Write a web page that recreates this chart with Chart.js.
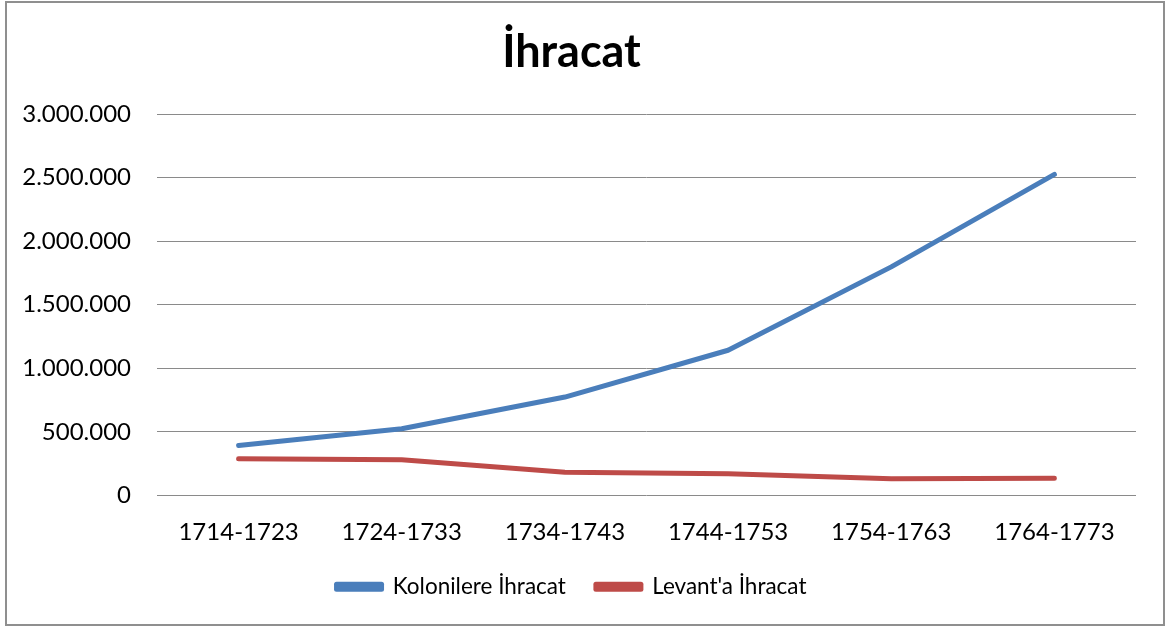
<!DOCTYPE html>
<html>
<head>
<meta charset="utf-8">
<script src="https://cdn.jsdelivr.net/npm/chart.js@4/dist/chart.umd.min.js"></script>
<style>
  html, body { margin: 0; padding: 0; background: #fff; }
  #wrap { width: 1167px; height: 627px; position: relative; }
</style>
</head>
<body>
<div id="wrap"><canvas id="chart"></canvas></div>
<script>
const periods = ['1714-1723', '1724-1733', '1734-1743', '1744-1753', '1754-1763', '1764-1773'];
const colonyExports = [394000, 525000, 774000, 1142000, 1798000, 2525000];
const levantExports = [289000, 281000, 183000, 171000, 131000, 136000];

const FONT = 'Lato, "Open Sans", sans-serif';

// dotted thousands, as in the Turkish sheet
const formatNumber = (v) => String(Math.round(v)).replace(/\B(?=(\d{3})+(?!\d))/g, '.');

const frame = {
  id: 'frame',
  beforeDraw(chart) {
    const ctx = chart.ctx;
    ctx.save();
    ctx.fillStyle = '#fff';
    ctx.fillRect(0, 0, chart.width, chart.height);
    ctx.strokeStyle = '#8f8f8f';
    ctx.lineWidth = 2;
    ctx.strokeRect(6, 2, 1158, 623);
    ctx.restore();
  },
};

new Chart(document.getElementById('chart'), {
  type: 'line',
  data: {
    labels: periods,
    datasets: [
      {
        label: 'Kolonilere İhracat',
        data: colonyExports,
        borderColor: '#4a7ebb',
        backgroundColor: '#4a7ebb',
        borderWidth: 5,
        borderCapStyle: 'round',
        borderJoinStyle: 'round',
        pointRadius: 0,
        tension: 0,
      },
      {
        label: "Levant'a İhracat",
        data: levantExports,
        borderColor: '#be4b48',
        backgroundColor: '#be4b48',
        borderWidth: 5,
        borderCapStyle: 'round',
        borderJoinStyle: 'round',
        pointRadius: 0,
        tension: 0,
      },
    ],
  },
  options: {
    responsive: true,
    maintainAspectRatio: false,
    animation: false,
    layout: { padding: { left: 7, right: 31, top: 0, bottom: 19 } },
    plugins: {
      title: {
        display: true,
        text: 'İhracat',
        color: '#000',
        font: { family: FONT, size: 45, weight: 'bold' },
        padding: { top: 25, bottom: 35 },
      },
      legend: {
        position: 'bottom',
        labels: {
          color: '#000',
          font: { family: FONT, size: 22.5 },
          boxWidth: 45,
          boxHeight: 5,
          padding: 30,
        },
      },
      tooltip: { enabled: false },
    },
    scales: {
      x: {
        offset: true,
        grid: { display: false, drawTicks: false },
        border: { display: false },
        ticks: { color: '#000', font: { family: FONT, size: 24 }, padding: 22, maxRotation: 0 },
        afterFit: (scale) => { scale.height = 50; },
      },
      y: {
        min: 0,
        max: 3000000,
        grid: { color: '#8a8a8a', lineWidth: 1, drawTicks: false },
        border: { display: false },
        ticks: {
          stepSize: 500000,
          color: '#000',
          font: { family: FONT, size: 24 },
          padding: 26,
          callback: (v) => formatNumber(v),
        },
        afterFit: (scale) => { scale.width = 150; },
      },
    },
  },
  plugins: [frame],
});
</script>
</body>
</html>
